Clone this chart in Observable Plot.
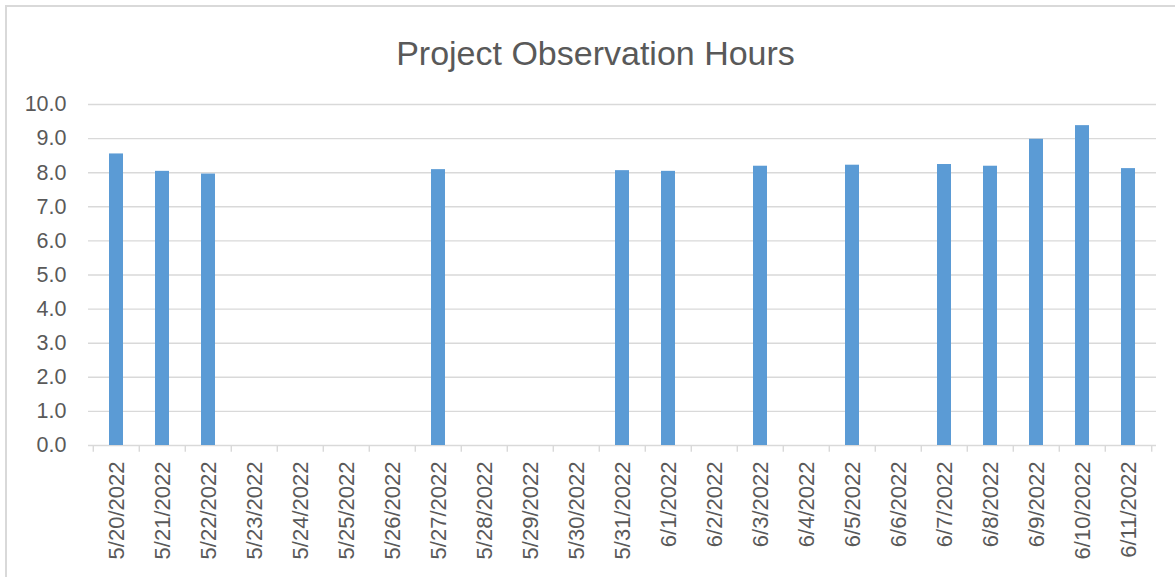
<!DOCTYPE html>
<html>
<head>
<meta charset="utf-8">
<script src="https://cdn.jsdelivr.net/npm/d3@7"></script>
<script src="https://cdn.jsdelivr.net/npm/@observablehq/plot@0.6"></script>
<style>
  html, body { margin: 0; padding: 0; background: #fff; }
  #wrap { position: relative; width: 1175px; height: 577px; overflow: hidden; font-family: "Liberation Sans", Arial, sans-serif; }
  #frame { position: absolute; left: 5px; top: 5px; width: 1200px; height: 600px; border-left: 2px solid #d9d9d9; border-top: 2px solid #d9d9d9; box-sizing: border-box; }
  #title { position: absolute; left: 0; width: 1191px; top: 36px; text-align: center; font-size: 34px; line-height: 34px; color: #595959; }
  #chart { position: absolute; left: 0; top: 0; }
</style>
</head>
<body>
<div id="wrap">
  <div id="frame"></div>
  <div id="chart"></div>
  <div id="title">Project Observation Hours</div>
</div>
<script>
const dates = ["5/20/2022","5/21/2022","5/22/2022","5/23/2022","5/24/2022","5/25/2022","5/26/2022","5/27/2022","5/28/2022","5/29/2022","5/30/2022","5/31/2022","6/1/2022","6/2/2022","6/3/2022","6/4/2022","6/5/2022","6/6/2022","6/7/2022","6/8/2022","6/9/2022","6/10/2022","6/11/2022"];
const hours = [8.55, 8.04, 7.96, null, null, null, null, 8.09, null, null, null, 8.06, 8.04, null, 8.19, null, 8.22, null, 8.24, 8.19, 8.98, 9.38, 8.12];
const yTicks = [0,1,2,3,4,5,6,7,8,9,10];

const data = dates.map((d, i) => ({date: d, hours: hours[i]})).filter(d => d.hours != null);

const W = 1175, H = 577, mL = 88, mR = 19, mT = 104, mB = 132;
const step = (W - mL - mR) / dates.length;
const grey = "#d9d9d9";
const textCol = "#595959";

const chart = Plot.plot({
  width: W,
  height: H,
  marginLeft: mL,
  marginRight: mR,
  marginTop: mT,
  marginBottom: mB,
  style: {fontFamily: "'Liberation Sans', Arial, sans-serif", fontSize: "21px", color: textCol, background: "transparent", overflow: "visible"},
  x: {domain: dates, paddingInner: 0.69, paddingOuter: 0.345},
  y: {domain: [0, 10]},
  marks: [
    Plot.gridY(yTicks, {stroke: grey, strokeOpacity: 1, strokeWidth: 1.4}),
    Plot.barY(data, {x: "date", y: "hours", fill: "#5b9bd5"}),
    Plot.ruleX(dates, {x: d => d, y1: 0, y2: -0.2, dx: -step / 2, stroke: grey, strokeWidth: 1.4}),
    Plot.ruleX([dates[dates.length - 1]], {x: d => d, y1: 0, y2: -0.2, dx: step / 2, stroke: grey, strokeWidth: 1.4}),
    Plot.axisY(yTicks, {tickSize: 0, tickPadding: 22, tickFormat: d => d.toFixed(1), label: null, fill: textCol, fontSize: 21.5}),
    Plot.axisX({tickSize: 0, tickPadding: 16, tickRotate: -90, label: null, fill: textCol, fontSize: 22})
  ]
});
document.getElementById("chart").appendChild(chart);
</script>
</body>
</html>
